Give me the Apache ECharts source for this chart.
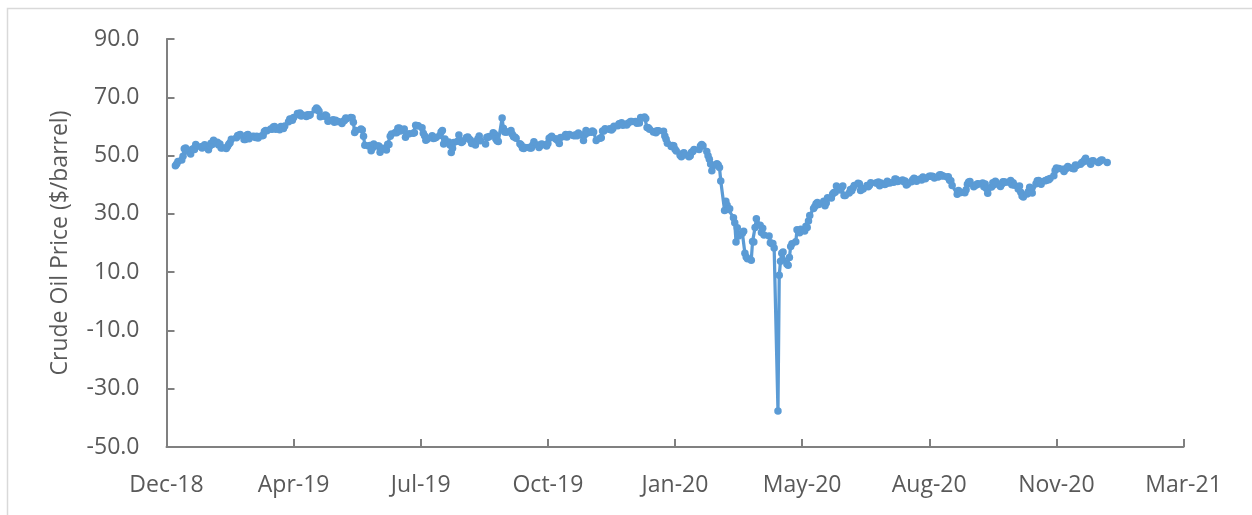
<!DOCTYPE html>
<html>
<head>
<meta charset="utf-8">
<script src="https://cdn.jsdelivr.net/npm/echarts@6/dist/echarts.min.js"></script>
<style>
  html, body { margin: 0; padding: 0; background: #ffffff; }
  #chart { width: 1252px; height: 515px; }
</style>
</head>
<body>
<div id="chart"></div>
<script>
// WTI crude oil, daily settlement prices ($/barrel)
const firstTradingDay = '2019-01-02';
const lastTradingDay = '2021-01-04';
const marketHolidays = [
  '2019-01-01', '2019-01-21', '2019-02-18', '2019-04-19', '2019-05-27',
  '2019-07-04', '2019-09-02', '2019-11-28', '2019-12-25',
  '2020-01-01', '2020-01-20', '2020-02-17', '2020-04-10', '2020-05-25',
  '2020-07-03', '2020-09-07', '2020-11-26', '2020-12-25', '2021-01-01'
];

const price2019 = [
  // Jan
  46.54, 47.09, 47.96, 48.52, 49.78, 52.36, 52.59, 51.59, 50.51, 52.11, 52.31,
  52.07, 53.80, 53.01, 52.62, 53.13, 53.69, 51.99, 53.31, 54.23, 53.79,
  // Feb
  55.26, 54.56, 53.66, 54.01, 52.64, 52.72, 52.41, 53.10, 53.90, 54.41, 55.59,
  56.09, 56.92, 56.96, 57.26, 55.48, 55.50, 56.94, 57.22,
  // Mar
  55.80, 56.59, 56.56, 56.22, 56.66, 56.07, 56.79, 56.87, 58.26, 58.61, 58.52,
  59.09, 59.03, 59.83, 59.98, 59.04, 58.82, 59.94, 59.41, 59.30, 60.14,
  // Apr
  61.59, 62.58, 62.46, 62.10, 63.08, 64.40, 64.00, 64.61, 63.58, 63.89, 63.40,
  64.05, 63.76, 64.00, 65.70, 66.30, 65.89, 65.21, 63.30, 63.50, 63.91,
  // May
  63.60, 61.81, 61.94, 62.25, 61.40, 62.12, 61.70, 61.66, 61.04, 61.78, 62.02,
  62.87, 62.76, 63.10, 62.99, 61.42, 57.91, 58.63, 59.14, 58.81, 56.59, 53.50,
  // Jun
  53.25, 53.48, 51.68, 52.59, 53.99, 53.26, 53.27, 51.14, 52.28, 52.51,
  51.93, 53.90, 53.76, 56.65, 57.43, 57.90, 57.83, 59.38, 59.43, 58.47,
  // Jul
  59.09, 56.25, 57.34, 57.51, 57.66, 57.83, 60.43, 60.20, 60.21, 59.58, 57.62,
  56.78, 55.30, 55.63, 56.22, 56.77, 55.88, 56.02, 56.20, 56.87, 58.05, 58.58,
  // Aug
  53.95, 55.66, 54.69, 53.63, 51.09, 52.54, 54.50, 54.93, 57.10, 55.23, 54.47,
  54.87, 56.21, 56.34, 55.68, 55.35, 54.17, 53.64, 54.93, 55.78, 56.71, 55.10,
  // Sep
  53.94, 56.26, 56.30, 56.52, 57.85, 57.40, 55.75, 55.09, 54.85, 62.90,
  59.34, 58.11, 58.13, 58.09, 58.64, 57.29, 56.49, 56.41, 55.91, 54.07,
  // Oct
  53.62, 52.64, 52.45, 52.81, 52.75, 52.63, 52.59, 53.55, 54.70, 53.59, 52.81, 53.36,
  53.93, 53.78, 53.31, 54.16, 55.97, 56.23, 56.66, 55.81, 55.54, 55.06, 54.18,
  // Nov
  56.20, 56.54, 57.23, 56.35, 57.15, 57.24, 56.86, 56.80, 57.12, 56.77,
  57.72, 57.05, 55.21, 57.11, 58.58, 57.77, 58.01, 58.41, 58.11, 55.17,
  // Dec
  55.96, 56.10, 58.43, 58.43, 59.20, 59.02, 59.24, 58.76, 59.18, 60.07, 60.21,
  60.94, 60.93, 61.22, 60.44, 60.52, 61.11, 61.68, 61.72, 61.68, 61.06
];

const price2020 = [
  // Jan
  61.18, 63.05, 63.27, 62.70, 59.61, 59.56, 59.04, 58.08, 58.23, 57.81, 58.52,
  58.54, 58.34, 56.74, 55.59, 54.19, 53.14, 53.48, 53.33, 52.14, 51.56,
  // Feb
  50.11, 49.61, 50.75, 50.95, 50.32, 49.57, 49.94, 51.17, 51.42, 52.05,
  52.05, 53.29, 53.78, 53.38, 51.43, 49.90, 48.73, 47.09, 44.76,
  // Mar
  46.75, 47.18, 46.78, 45.90, 41.28, 31.13, 34.36, 32.98, 31.50, 31.73, 28.70,
  26.95, 20.37, 25.22, 22.43, 23.36, 24.01, 16.50, 15.20, 14.60, 14.10, 20.48,
  // Apr
  20.31, 25.32, 28.34, 26.08, 23.63, 25.09, 22.76, 22.41, 20.11, 19.87, 19.87,
  18.27, -37.63, 8.91, 13.78, 16.50, 16.94, 12.78, 12.34, 15.06, 18.84,
  // May
  19.78, 20.39, 24.56, 23.99, 23.55, 24.74, 24.14, 25.78, 25.29, 27.56,
  29.43, 31.82, 32.50, 33.49, 33.92, 33.25, 34.35, 32.81, 33.71, 35.49,
  // Jun
  35.44, 36.81, 37.29, 37.41, 39.55, 38.19, 38.94, 39.60, 36.34, 36.26, 37.12,
  38.38, 37.96, 38.84, 39.75, 40.46, 40.37, 38.01, 38.72, 38.49, 39.70, 39.27,
  // Jul
  39.82, 40.65, 40.63, 40.62, 40.90, 39.62, 40.55, 40.10, 40.29, 41.20, 40.75,
  40.59, 40.81, 41.96, 41.90, 41.07, 41.29, 41.60, 41.04, 41.27, 39.92, 40.27,
  // Aug
  41.01, 41.70, 42.19, 41.95, 41.22, 41.94, 41.61, 42.67, 42.24, 42.01, 42.89,
  42.89, 42.93, 42.82, 42.34, 42.62, 43.35, 43.39, 43.04, 42.97, 42.61,
  // Sep
  42.76, 41.51, 41.37, 39.77, 36.76, 38.05, 37.30, 37.33, 37.26, 38.28, 40.16,
  40.97, 41.11, 39.31, 39.80, 39.93, 40.31, 40.25, 40.60, 39.29, 40.22,
  // Oct
  38.72, 37.05, 39.22, 40.67, 39.95, 41.19, 40.60, 39.43, 40.20, 41.04, 40.96,
  40.88, 40.83, 41.46, 40.03, 40.64, 39.85, 38.56, 39.57, 37.39, 36.17, 35.79,
  // Nov
  36.81, 37.66, 39.15, 38.79, 37.14, 40.29, 41.36, 41.45, 41.12, 40.13,
  41.34, 41.43, 41.82, 41.74, 42.15, 43.06, 44.91, 45.71, 45.53, 45.34,
  // Dec
  44.55, 45.28, 45.64, 46.26, 45.76, 45.60, 45.52, 46.78, 46.57, 46.99, 47.62,
  47.82, 48.36, 49.10, 47.74, 47.02, 48.12, 48.23, 47.62, 48.00, 48.40, 48.52
];

const price2021 = [47.62];

// Axis settings: date ticks every 100 days starting 26 Dec 2018
const axisStartDate = '2018-12-26';
const axisStepDays = 100;
const axisSteps = 8;
const priceMin = -50, priceMax = 90, priceStep = 20;
const monthNames = ['Jan', 'Feb', 'Mar', 'Apr', 'May', 'Jun', 'Jul', 'Aug', 'Sep', 'Oct', 'Nov', 'Dec'];

const DAY = 86400000;
const toUTC = s => { const p = s.split('-').map(Number); return Date.UTC(p[0], p[1] - 1, p[2]); };

// Build the list of trading days (weekdays minus exchange holidays)
const holidaySet = new Set(marketHolidays.map(toUTC));
const tradingDays = [];
for (let t = toUTC(firstTradingDay); t <= toUTC(lastTradingDay); t += DAY) {
  const wd = new Date(t).getUTCDay();
  if (wd === 0 || wd === 6 || holidaySet.has(t)) continue;
  tradingDays.push(t);
}
const prices = price2019.concat(price2020, price2021);
const n = Math.min(tradingDays.length, prices.length);
const seriesData = [];
for (let i = 0; i < n; i++) seriesData.push([tradingDays[i], prices[i]]);

const xMin = toUTC(axisStartDate);
const xStep = axisStepDays * DAY;

const labelColor = '#595959';
const axisColor = '#808080';
const lineColor = '#5b9bd5';
const fontFamily = '"Open Sans", "Noto Sans", sans-serif';

const chart = echarts.init(document.getElementById('chart'), null, { renderer: 'canvas' });
chart.setOption({
  animation: false,
  backgroundColor: '#ffffff',
  graphic: [{
    type: 'rect',
    shape: { x: 7.5, y: 8.5, width: 1400, height: 700 },
    style: { fill: 'none', stroke: '#d9d9d9', lineWidth: 1.5 },
    silent: true,
    z: -10
  }],
  grid: {
    left: 166.5, right: 68.5, top: 39, bottom: 68,
    containLabel: false
  },
  xAxis: {
    type: 'value',
    min: xMin,
    max: xMin + axisSteps * xStep,
    interval: xStep,
    splitLine: { show: false },
    axisLine: { show: true, onZero: false, lineStyle: { color: axisColor, width: 2 } },
    axisTick: { show: true, inside: true, length: 8, lineStyle: { color: axisColor, width: 2 } },
    axisLabel: {
      color: labelColor,
      fontFamily: fontFamily,
      fontSize: 23,
      margin: 27,
      formatter: v => {
        const d = new Date(v);
        return monthNames[d.getUTCMonth()] + '-' + String(d.getUTCFullYear()).slice(2);
      }
    }
  },
  yAxis: {
    type: 'value',
    min: priceMin,
    max: priceMax,
    interval: priceStep,
    name: 'Crude Oil Price ($/barrel)',
    nameLocation: 'middle',
    nameRotate: 90,
    nameGap: 95,
    nameTextStyle: { color: labelColor, fontFamily: fontFamily, fontSize: 23 },
    splitLine: { show: false },
    axisLine: { show: true, onZero: false, lineStyle: { color: axisColor, width: 2 } },
    axisTick: { show: true, inside: true, length: 8, lineStyle: { color: axisColor, width: 2 } },
    axisLabel: {
      color: labelColor,
      fontFamily: fontFamily,
      fontSize: 23,
      margin: 27,
      formatter: v => v.toFixed(1)
    }
  },
  series: [{
    type: 'line',
    data: seriesData,
    symbol: 'circle',
    symbolSize: 7.5,
    showAllSymbol: true,
    lineStyle: { color: lineColor, width: 3.25 },
    itemStyle: { color: lineColor },
    emphasis: { disabled: true },
    z: 3
  }]
});
</script>
</body>
</html>
